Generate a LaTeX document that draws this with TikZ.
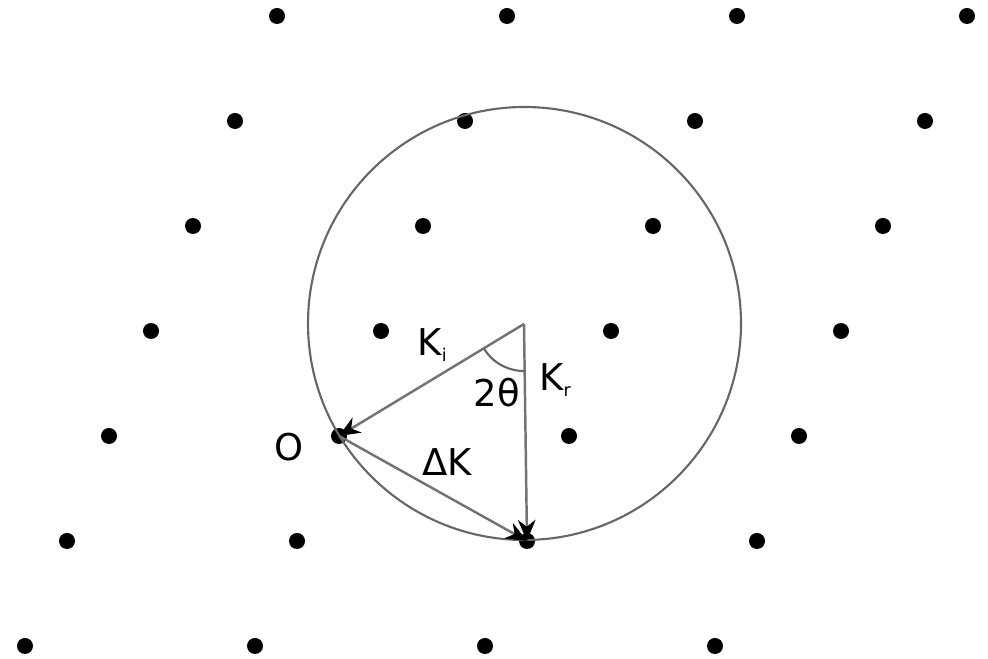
\documentclass[tikz,border=0pt]{standalone}
\usepackage{fontspec}
\setmainfont{DejaVu Sans}
\usepackage{tikz}
\usetikzlibrary{arrows.meta, calc}

\begin{document}
\begin{tikzpicture}[
      x=0.01cm, y=-0.01cm,
      >={Stealth[length=6pt,width=5pt,black]},
      ponto/.style={circle, fill=black, inner sep=0pt, minimum size=0.16cm},
      vetor/.style={->, line width=0.7pt, draw=black!55},
      esfera/.style={line width=0.6pt, draw=black!60},
      rotulo/.style={font=\fontsize{10.5}{12}\selectfont, text=black, inner sep=1pt}
  ]
      \useasboundingbox (0,0) rectangle (988,659);

      % Rede reciproca
      \foreach \j in {0,...,6}
        \foreach \i in {0,...,3}
          \node[ponto] (p-\i-\j) at ({277-42*\j+230*\i}, {16+105*\j}) {};

      % Esfera de Ewald
      \coordinate (C) at (524,324);
      \draw[esfera] (524.5,323.5) circle (216.5);

      % Vetores
      \draw[vetor] (C) -- (p-1-4.center);
      \draw[vetor] (C) -- (p-2-5.center);
      \draw[vetor] (p-1-4.center) -- (p-2-5.center);

      % Angulo
      \draw[esfera] ($(C)!0.47cm!(p-1-4.center)$) arc[start angle=148.8, end angle=90, radius=47];

      % Rotulos
      \node[rotulo] (lo) at (289,447) {O};
      \node[rotulo] (lki) at (433,345) {K\textsubscript{\tiny i}};
      \node[rotulo] (lkr) at (556,380) {K\textsubscript{\tiny r}};
      \node[rotulo] (lth) at (497,393) {2θ};
      \node[rotulo] (ldk) at (447,462) {ΔK};
  \end{tikzpicture}
\end{document}
